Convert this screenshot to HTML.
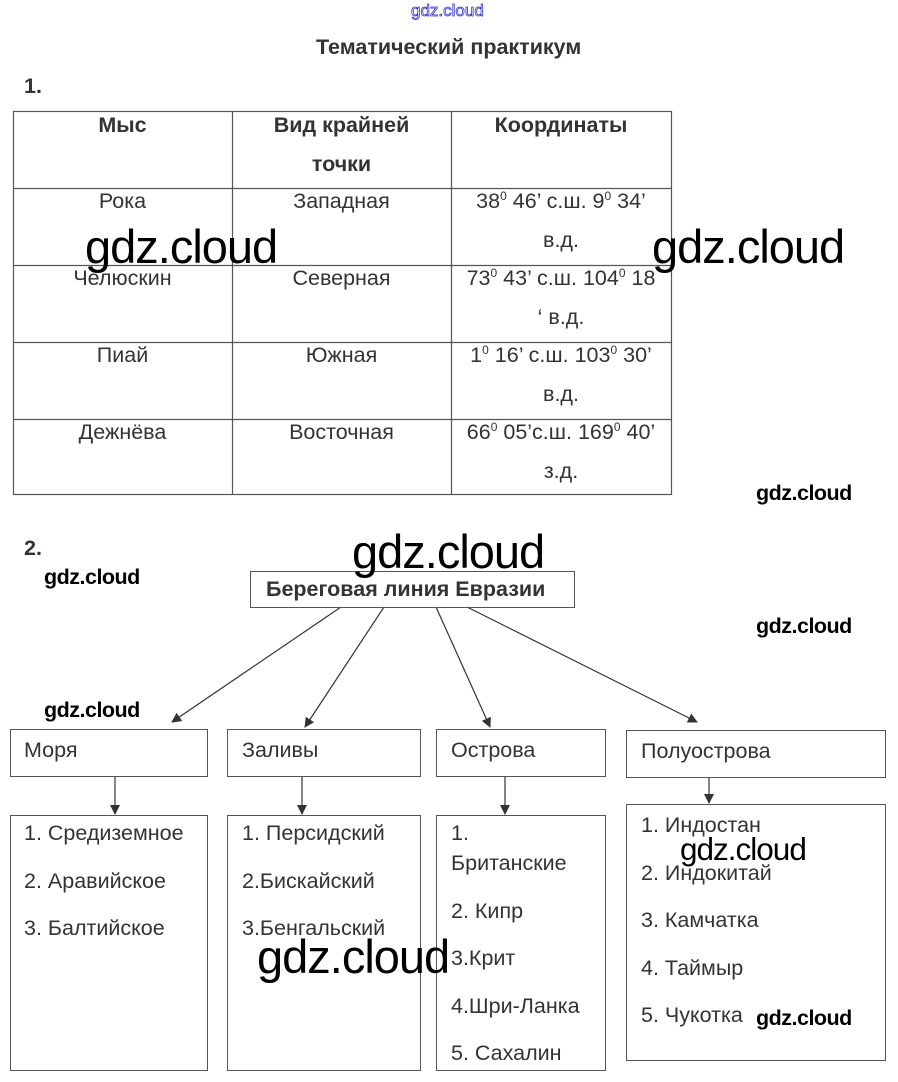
<!DOCTYPE html>
<html><head><meta charset="utf-8"><style>
body{margin:0;width:898px;height:1082px;background:#fff;position:relative;overflow:hidden;font-family:"Liberation Sans",Arial,sans-serif;color:#333}
.a{position:absolute;white-space:nowrap}
.c{text-align:center}
.t{font-size:21.5px;line-height:39px}
.b{font-weight:bold}
.wm{position:absolute;font-family:"Liberation Sans",sans-serif;color:#000;white-space:nowrap;letter-spacing:-1px}
.big{font-size:47px}
.sm{font-size:21.5px;font-weight:bold;letter-spacing:-0.5px}
.box{position:absolute;border:1px solid #555;box-sizing:border-box}
sup{font-size:12px;vertical-align:8px;line-height:0}
.li{font-size:21.5px;line-height:47.5px}
</style></head><body>
<div class="a" style="left:411px;top:1px;font-size:17px;color:#fff;-webkit-text-stroke:0.8px #3333cc">gdz.cloud</div>
<div class="a b" style="left:316px;top:35px;font-size:21.5px">Тематический практикум</div>
<div class="a b" style="left:24px;top:74px;font-size:21.5px">1.</div>

<svg class="a" style="left:0;top:0" width="898" height="1082">
<g stroke="#555" stroke-width="1.2" fill="none">
<rect x="13.5" y="111.5" width="658" height="383"/>
<line x1="232.5" y1="111" x2="232.5" y2="495"/><line x1="451.5" y1="111" x2="451.5" y2="495"/>
<line x1="13" y1="188.5" x2="671" y2="188.5"/><line x1="13" y1="265.5" x2="671" y2="265.5"/>
<line x1="13" y1="342.5" x2="671" y2="342.5"/><line x1="13" y1="419.5" x2="671" y2="419.5"/>
</g>
<defs><marker id="m" markerWidth="10" markerHeight="10" refX="9" refY="5" orient="auto" markerUnits="userSpaceOnUse"><path d="M0,0 L10,5 L0,10z" fill="#333"/></marker></defs>
<g stroke="#333" stroke-width="1.2" marker-end="url(#m)">
<line x1="341" y1="607" x2="172" y2="722"/>
<line x1="384" y1="607" x2="305" y2="727"/>
<line x1="436" y1="607" x2="490" y2="727"/>
<line x1="467" y1="607" x2="697" y2="722"/>
<line x1="115" y1="776" x2="115" y2="814"/>
<line x1="302" y1="776" x2="302" y2="814"/>
<line x1="505" y1="776" x2="505" y2="814"/>
<line x1="709" y1="777" x2="709" y2="803"/>
</g>
</svg>

<div class="a c t b" style="left:13px;top:106px;width:219px">Мыс</div>
<div class="a c t b" style="left:232px;top:106px;width:219px">Вид крайней<br>точки</div>
<div class="a c t b" style="left:451px;top:106px;width:220px">Координаты</div>

<div class="a c t" style="left:13px;top:182px;width:219px">Рока</div>
<div class="a c t" style="left:232px;top:182px;width:219px">Западная</div>
<div class="a c t" style="left:451px;top:182px;width:220px">38<sup>0</sup> 46’ с.ш. 9<sup>0</sup> 34’<br>в.д.</div>
<div class="a c t" style="left:13px;top:259px;width:219px">Челюскин</div>
<div class="a c t" style="left:232px;top:259px;width:219px">Северная</div>
<div class="a c t" style="left:451px;top:259px;width:220px">73<sup>0</sup> 43’ с.ш. 104<sup>0</sup> 18<br>‘ в.д.</div>
<div class="a c t" style="left:13px;top:336px;width:219px">Пиай</div>
<div class="a c t" style="left:232px;top:336px;width:219px">Южная</div>
<div class="a c t" style="left:451px;top:336px;width:220px">1<sup>0</sup> 16’ с.ш. 103<sup>0</sup> 30’<br>в.д.</div>
<div class="a c t" style="left:13px;top:413px;width:219px">Дежнёва</div>
<div class="a c t" style="left:232px;top:413px;width:219px">Восточная</div>
<div class="a c t" style="left:451px;top:413px;width:220px">66<sup>0</sup> 05’с.ш. 169<sup>0</sup> 40’<br>з.д.</div>

<div class="a b" style="left:24px;top:536px;font-size:21.5px">2.</div>

<div class="box" style="left:250px;top:571px;width:325px;height:37px"></div>
<div class="a b" style="left:266px;top:577px;font-size:21.5px">Береговая линия Евразии</div>

<div class="box" style="left:10px;top:729px;width:198px;height:48px"></div>
<div class="box" style="left:227px;top:729px;width:194px;height:48px"></div>
<div class="box" style="left:436px;top:729px;width:170px;height:48px"></div>
<div class="box" style="left:626px;top:730px;width:260px;height:48px"></div>
<div class="a" style="left:24px;top:738px;font-size:21.5px">Моря</div>
<div class="a" style="left:242px;top:738px;font-size:21.5px">Заливы</div>
<div class="a" style="left:451px;top:738px;font-size:21.5px">Острова</div>
<div class="a" style="left:641px;top:739px;font-size:21.5px">Полуострова</div>

<div class="box" style="left:10px;top:815px;width:198px;height:256px"></div>
<div class="box" style="left:227px;top:815px;width:194px;height:256px"></div>
<div class="box" style="left:436px;top:815px;width:170px;height:256px"></div>
<div class="box" style="left:626px;top:804px;width:260px;height:257px"></div>

<div class="a li" style="left:24px;top:810px">1. Средиземное<br>2. Аравийское<br>3. Балтийское</div>
<div class="a li" style="left:242px;top:810px">1. Персидский<br>2.Бискайский<br>3.Бенгальский</div>
<div class="a li" style="left:451px;top:810px">1.</div>
<div class="a li" style="left:451px;top:840px">Британские<br>2. Кипр<br>3.Крит<br>4.Шри-Ланка<br>5. Сахалин</div>
<div class="a li" style="left:641px;top:802px">1. Индостан<br>2. Индокитай<br>3. Камчатка<br>4. Таймыр<br>5. Чукотка</div>

<div class="wm big" style="left:85px;top:219px">gdz.cloud</div>
<div class="wm big" style="left:652px;top:219px">gdz.cloud</div>
<div class="wm big" style="left:352px;top:524px">gdz.cloud</div>
<div class="wm big" style="left:257px;top:929px">gdz.cloud</div>
<div class="wm" style="left:680px;top:831px;font-size:31.5px">gdz.cloud</div>
<div class="wm sm" style="left:756px;top:481px">gdz.cloud</div>
<div class="wm sm" style="left:44px;top:565px">gdz.cloud</div>
<div class="wm sm" style="left:756px;top:614px">gdz.cloud</div>
<div class="wm sm" style="left:44px;top:698px">gdz.cloud</div>
<div class="wm sm" style="left:756px;top:1006px">gdz.cloud</div>
</body></html>
